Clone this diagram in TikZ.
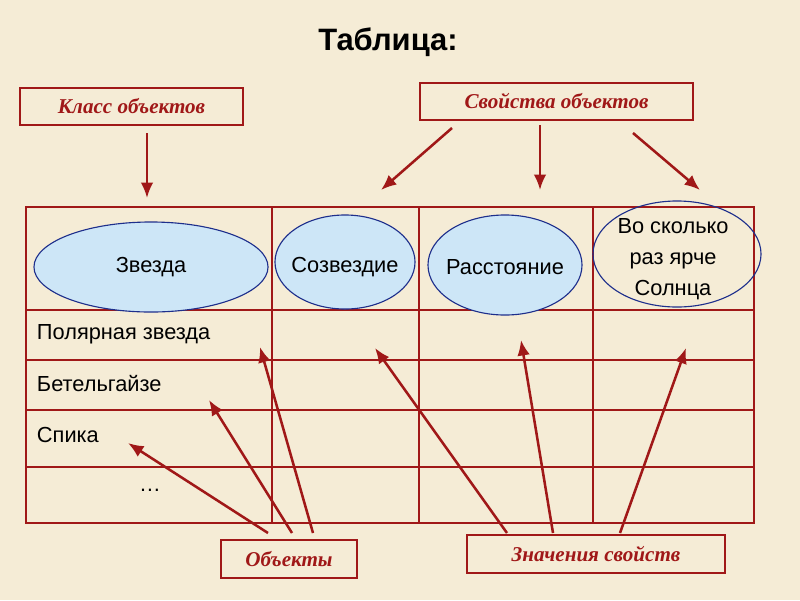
\documentclass[tikz,border=0pt]{standalone}
\usepackage{fontspec}
\setmainfont{Liberation Sans}
\newfontfamily\boxfont{Liberation Serif}
\usetikzlibrary{arrows.meta,shapes.geometric}
\definecolor{bg}{HTML}{F5ECD6}
\definecolor{dred}{HTML}{A01818}
\definecolor{ell}{HTML}{CDE6F7}
\definecolor{eline}{HTML}{1E2F8C}
\tikzset{
  arr/.style={draw=dred,line width=1.8pt,-{Latex[length=11pt,width=9pt]}},
  lbl/.style={draw=dred,fill=bg,line width=0.8pt,font=\boxfont\bfseries\itshape\fontsize{15}{17}\selectfont,text=dred,inner sep=0pt},
  ov/.style={ellipse,draw=eline,fill=ell,line width=0.8pt},
  tx/.style={font=\fontsize{15.5}{18}\selectfont,anchor=west}
}
\begin{document}
\begin{tikzpicture}[x=0.025cm,y=-0.025cm]
\fill[bg] (0,0) rectangle (800,600);
\useasboundingbox (0,0) rectangle (800,600);
\node (title) at (388,42) {\bfseries\fontsize{22}{26}\selectfont Таблица:};
% table
\draw[dred,line width=1.2pt] (26,207) rectangle (754,523);
\foreach \x in {272,419,593} \draw[dred,line width=1.2pt] (\x,207) -- (\x,523);
\foreach \y in {310,360,410,467} \draw[dred,line width=1.2pt] (26,\y) -- (754,\y);
\node[ov,minimum width=5.85cm,minimum height=2.25cm] (z) at (151,267) {};
\node (zt) at (151,267) {\fontsize{15.5}{18}\selectfont Звезда};
\node[ov,minimum width=3.5cm,minimum height=2.35cm] (c) at (345,262) {};
\node (ct) at (345,267) {\fontsize{15.5}{18}\selectfont Созвездие};
\node[ov,minimum width=3.85cm,minimum height=2.5cm] (r) at (505,265) {};
\node (rt) at (505,267) {\fontsize{15.5}{18}\selectfont Расстояние};
\node[draw=eline,ellipse,line width=0.8pt,minimum width=4.2cm,minimum height=2.65cm] (b) at (677,254) {};
\node[align=center,font=\fontsize{15.5}{22}\selectfont] (bt2) at (673,259) {Во сколько\\раз ярче\\Солнца};
\node[tx] (p) at (32,334) {Полярная звезда};
\node[tx] (bt) at (32,384) {Бетельгайзе};
\node[tx] (sp) at (32,435) {Спика};
\node[font=\fontsize{15.5}{18}\selectfont] (d) at (150,490) {\dots};
% labels
\node[lbl,minimum width=5.575cm,minimum height=0.925cm] (k) at (131.5,106.5) {Класс объектов};
\node[lbl,minimum width=6.825cm,minimum height=0.925cm] (s) at (556.5,101.5) {Свойства объектов};
\node[lbl,minimum width=3.4cm,minimum height=0.95cm] (o) at (289,559) {Объекты};
\node[lbl,minimum width=6.45cm,minimum height=0.95cm] (v) at (596,554) {Значения свойств};
\coordinate (a1) at (147,198);
\coordinate (a2) at (381,190);
\coordinate (a3) at (540,190);
\coordinate (a4) at (700,190);
\draw[arr] (147,133) -- (a1);
\draw[arr] (452,128) -- (a2);
\draw[arr] (540,125) -- (a3);
\draw[arr] (633,133) -- (a4);
\coordinate (t1) at (128,443);
\coordinate (t2) at (209,400);
\coordinate (t3) at (260,347);
\coordinate (t4) at (375,348);
\coordinate (t5) at (521,340);
\coordinate (t6) at (686,348);
\draw[arr] (268,533) -- (t1);
\draw[arr] (292,533) -- (t2);
\draw[arr] (313,533) -- (t3);
\draw[arr] (507,533) -- (t4);
\draw[arr] (553,533) -- (t5);
\draw[arr] (620,533) -- (t6);
\end{tikzpicture}
\end{document}
